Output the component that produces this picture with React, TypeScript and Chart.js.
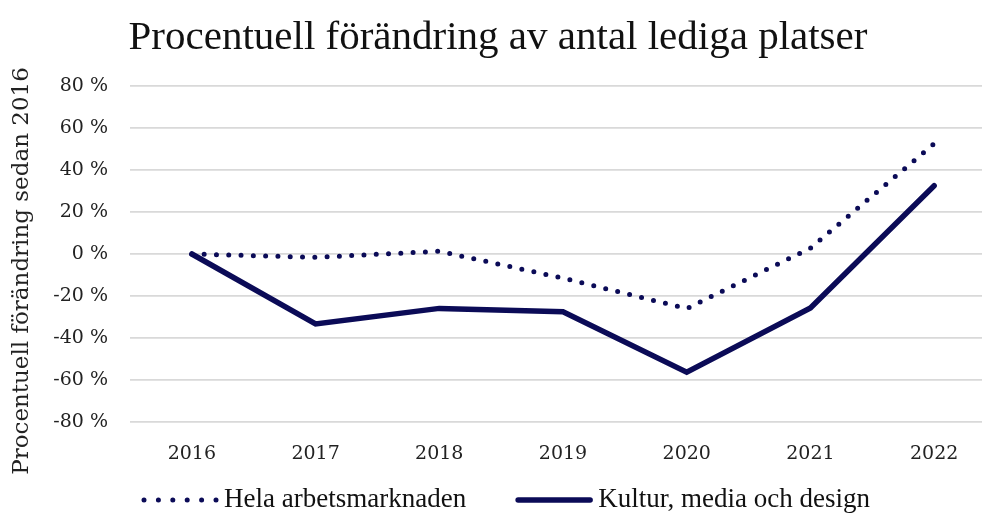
import React, { useEffect, useRef } from "react";
import { Chart, registerables } from "chart.js";

Chart.register(...registerables);

const categories = ["2016", "2017", "2018", "2019", "2020", "2021", "2022"];
const helaArbetsmarknaden = [0, -1.6, 1.3, -11.5, -26, 2.8, 52.5];
const kulturMediaDesign = [0, -33.3, -25.9, -27.5, -56.3, -25.7, 32.5];
const seriesNames = ["Hela arbetsmarknaden", "Kultur, media och design"];
const titleText = "Procentuell förändring av antal lediga platser";
const yTitleText = "Procentuell förändring sedan 2016";

const NAVY = "#0b0b57";
const CANVAS_W = 1000;
const CANVAS_H = 515;

const yTitlePlugin = {
  id: "yTitlePlugin",
  afterDraw(chart: any) {
    const { ctx } = chart;
    ctx.save();
    ctx.translate(28, 271);
    ctx.rotate(-Math.PI / 2);
    ctx.font = "23px 'DejaVu Serif'";
    ctx.fillStyle = "#222222";
    ctx.textAlign = "center";
    ctx.textBaseline = "alphabetic";
    ctx.fillText(yTitleText, 0, 0);
    ctx.restore();
  },
};

// Bottom legend drawn with custom spacing (sample line + label)
const bottomLegendPlugin = {
  id: "bottomLegendPlugin",
  afterDraw(chart: any) {
    const { ctx } = chart;
    const sampleW = 72;
    const textGap = 8;
    const itemGap = 52;
    const y = 500;
    ctx.save();
    ctx.font = "27px 'Liberation Serif'";
    const items = chart.data.datasets.map((ds: any) => ({
      ds,
      textW: ctx.measureText(ds.label).width,
    }));
    const total =
      items.reduce((a: number, it: any) => a + sampleW + textGap + it.textW, 0) +
      itemGap * (items.length - 1);
    let x = chart.width / 2 - total / 2 + 7;
    items.forEach((it: any) => {
      const ds = it.ds;
      ctx.beginPath();
      ctx.strokeStyle = ds.borderColor;
      ctx.lineWidth = ds.borderWidth;
      ctx.lineCap = "round";
      ctx.setLineDash(ds.borderDash && ds.borderDash.length ? [0, 14.4] : []);
      ctx.moveTo(x, y);
      ctx.lineTo(x + sampleW, y);
      ctx.stroke();
      ctx.setLineDash([]);
      ctx.fillStyle = "#111111";
      ctx.textAlign = "left";
      ctx.textBaseline = "middle";
      ctx.fillText(ds.label, x + sampleW + textGap, y);
      x += sampleW + textGap + it.textW + itemGap;
    });
    ctx.restore();
  },
};

export default function App() {
  const ref = useRef<HTMLCanvasElement | null>(null);

  useEffect(() => {
    if (!ref.current) return;
    const chart = new Chart(ref.current, {
      type: "line",
      data: {
        labels: categories,
        datasets: [
          {
            label: seriesNames[0],
            data: helaArbetsmarknaden,
            borderColor: NAVY,
            backgroundColor: "rgba(0,0,0,0)",
            borderWidth: 5,
            borderDash: [0, 12.3],
            borderCapStyle: "round",
            pointRadius: 0,
            tension: 0,
          },
          {
            label: seriesNames[1],
            data: kulturMediaDesign,
            borderColor: NAVY,
            backgroundColor: "rgba(0,0,0,0)",
            borderWidth: 5.5,
            borderCapStyle: "round",
            borderJoinStyle: "miter",
            pointRadius: 0,
            tension: 0,
          },
        ],
      },
      plugins: [yTitlePlugin, bottomLegendPlugin],
      options: {
        animation: false,
        responsive: false,
        maintainAspectRatio: false,
        layout: { padding: { left: 0, right: 4, top: 0, bottom: 48 } },
        plugins: {
          title: {
            display: true,
            text: titleText,
            color: "#111111",
            font: { family: "Liberation Serif", size: 41, weight: "normal" },
            padding: { top: 13.4, bottom: 23.4 },
          },
          legend: { display: false },
          tooltip: { enabled: false },
        },
        scales: {
          x: {
            type: "category",
            offset: true,
            grid: { display: false },
            border: { display: false },
            ticks: {
              color: "#222222",
              font: { family: "DejaVu Serif", size: 19 },
              padding: 13,
              maxRotation: 0,
            },
            afterFit: (s: any) => {
              s.height = 45;
            },
          },
          y: {
            min: -80,
            max: 80,
            grid: { color: "#d9d9d9", lineWidth: 1.8, drawTicks: false },
            border: { display: false },
            ticks: {
              stepSize: 20,
              color: "#222222",
              font: { family: "DejaVu Serif", size: 19 },
              padding: 22,
              callback: (v: any) => `${v} %`,
            },
            afterFit: (s: any) => {
              s.width = 130;
            },
          },
        },
      },
    });
    return () => chart.destroy();
  }, []);

  return (
    <div
      style={{
        position: "fixed",
        left: 0,
        top: 0,
        width: 982,
        height: 515,
        overflow: "hidden",
        background: "#ffffff",
      }}
    >
      <canvas
        ref={ref}
        width={CANVAS_W}
        height={CANVAS_H}
        style={{ display: "block", width: CANVAS_W, height: CANVAS_H }}
      />
    </div>
  );
}
